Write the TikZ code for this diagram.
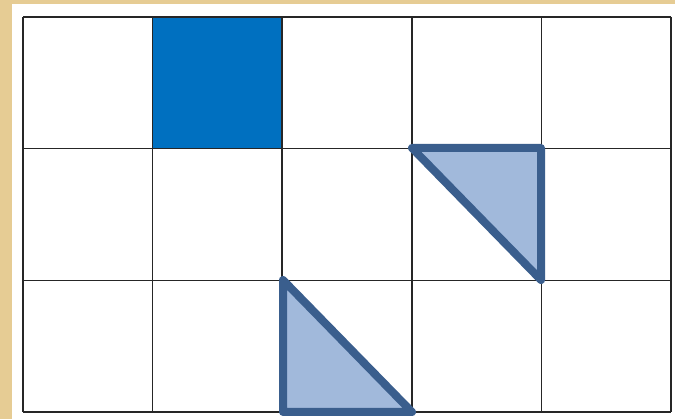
\documentclass[tikz,border=0pt]{standalone}
\usepackage{xcolor}
\definecolor{parchment}{HTML}{E6CC94}
\definecolor{cellblue}{HTML}{0070C0}
\definecolor{trifill}{HTML}{A1B9DB}
\definecolor{triline}{HTML}{3A5E8D}

\begin{document}
\begin{tikzpicture}[
    x=1pt,y=-1pt,
    gridline/.style={draw=black!85, line width=1.6pt},
    filled/.style={fill=cellblue},
    wedge/.style={draw=triline, fill=trifill, line width=8pt, line join=round}
]
% Page and sheet
\fill[parchment] (0,0) rectangle (675,419);
\useasboundingbox (0,0) rectangle (675,419);
\fill[white] (12,4) rectangle (675,419);

% Filled cell (column 2, row 1)
\fill[filled] (153,17) rectangle (283,148);

% Grid: 5 columns, 3 rows
\foreach \i in {0,...,5}
  \draw[gridline] ({23+\i*129.6},17) -- ({23+\i*129.6},412);
\foreach \j in {0,...,3}
  \draw[gridline] (23,{17+\j*131.7}) -- (671,{17+\j*131.7});

% Half cells
\draw[wedge] (412,148) -- (541,148) -- (541,280) -- cycle;
\draw[wedge] (283,280) -- (283,412) -- (412,412) -- cycle;
\end{tikzpicture}
\end{document}
